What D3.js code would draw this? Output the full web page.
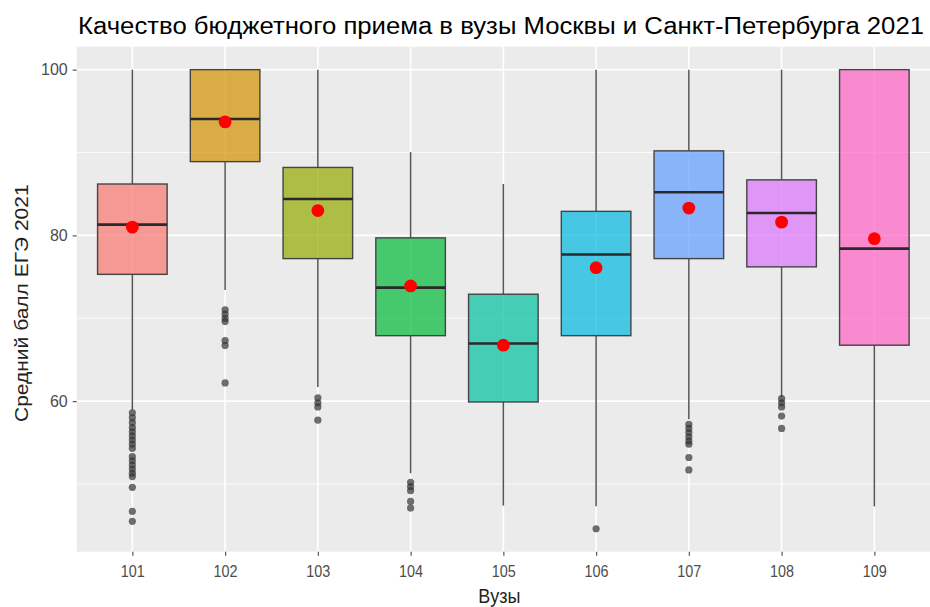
<!DOCTYPE html>
<html>
<head>
<meta charset="utf-8">
<script src="https://cdn.jsdelivr.net/npm/d3@7"></script>
<style>
  body { margin: 0; background: #fff; }
  svg text { font-family: "Liberation Sans", Arial, sans-serif; }
</style>
</head>
<body>
<div id="chart"></div>
<script>
// values
var categories = ["101", "102", "103", "104", "105", "106", "107", "108", "109"];
var whiskerHigh = [100, 100, 100, 90.05, 86.2, 100, 100, 100, 100];
var q3 = [86.2, 100, 88.2, 79.7, 72.9, 82.9, 90.2, 86.7, 100];
var medians = [81.3, 94.05, 84.4, 73.7, 66.95, 77.7, 85.2, 82.7, 78.4];
var q1 = [75.3, 88.9, 77.2, 67.9, 59.9, 67.9, 77.2, 76.2, 66.75];
var whiskerLow = [58.9, 73.4, 61.7, 51.3, 47.4, 47.3, 57.8, 60.5, 47.3];
var means = [81.0, 93.7, 83.0, 73.9, 66.75, 76.1, 83.3, 81.6, 79.6];
var outliers = [
    [58.6, 58.0, 57.4, 56.8, 56.3, 55.8, 55.3, 54.8, 54.3, 53.3, 52.8, 52.3, 51.8, 51.3, 50.9, 49.6, 46.7, 45.5],
    [71.0, 70.5, 70.0, 69.6, 67.3, 66.7, 62.2],
    [60.4, 59.8, 59.3, 57.7],
    [50.2, 49.7, 49.2, 47.9, 47.1],
    [],
    [44.6],
    [57.2, 56.7, 56.2, 55.7, 55.2, 54.8, 53.2, 51.7],
    [60.3, 59.8, 59.3, 58.2, 56.7],
    []
];
var yTicks = [60, 80, 100];
var yMinorTicks = [50, 70, 90];
var fillColours = ["#F8766D", "#D39200", "#93AA00", "#00BA38", "#00C19F", "#00B9E3", "#619CFF", "#DB72FB", "#FF61C3"];

var width = 930, height = 607;
var margin = {top: 46.7, right: 0, bottom: 55.3, left: 76.7};
var innerW = width - margin.left - margin.right,
    innerH = height - margin.top - margin.bottom;

var svg = d3.select("#chart").append("svg")
    .attr("width", width)
    .attr("height", height);

// title
svg.append("text")
    .attr("x", 78)
    .attr("y", 34)
    .attr("font-size", 23)
    .attr("fill", "#000")
    .attr("textLength", 846)
    .attr("lengthAdjust", "spacingAndGlyphs")
    .text("Качество бюджетного приема в вузы Москвы и Санкт-Петербурга 2021");

var g = svg.append("g")
    .attr("transform", "translate(" + margin.left + "," + margin.top + ")");

// ggplot-like 5% expansion of the data range
var allVals = [].concat(whiskerHigh, whiskerLow, d3.merge(outliers));
var lo = d3.min(allVals), hi = d3.max(allVals), pad = (hi - lo) * 0.05;
var yScale = d3.scaleLinear().domain([lo - pad, hi + pad]).range([innerH, 0]);
var xScale = d3.scalePoint().domain(categories).range([0, innerW]).padding(0.6);
var step = xScale.step();
var boxW = step * 0.75;

g.append("rect")
    .attr("width", innerW)
    .attr("height", innerH)
    .attr("fill", "#EBEBEB");

// grid
g.selectAll(".minor").data(yMinorTicks).enter().append("line")
    .attr("x1", 0).attr("x2", innerW)
    .attr("y1", function(d) { return yScale(d); })
    .attr("y2", function(d) { return yScale(d); })
    .attr("stroke", "#fff").attr("stroke-width", 0.8);
g.selectAll(".major").data(yTicks).enter().append("line")
    .attr("x1", 0).attr("x2", innerW)
    .attr("y1", function(d) { return yScale(d); })
    .attr("y2", function(d) { return yScale(d); })
    .attr("stroke", "#fff").attr("stroke-width", 1.6);
g.selectAll(".vgrid").data(categories).enter().append("line")
    .attr("x1", function(d) { return xScale(d); })
    .attr("x2", function(d) { return xScale(d); })
    .attr("y1", 0).attr("y2", innerH)
    .attr("stroke", "#fff").attr("stroke-width", 1.6);

// boxes
categories.forEach(function(c, i) {
    var cx = xScale(c);
    var box = g.append("g");
    box.append("line")
        .attr("x1", cx).attr("x2", cx)
        .attr("y1", yScale(whiskerHigh[i])).attr("y2", yScale(q3[i]))
        .attr("stroke", "#555").attr("stroke-width", 1.5);
    box.append("line")
        .attr("x1", cx).attr("x2", cx)
        .attr("y1", yScale(q1[i])).attr("y2", yScale(whiskerLow[i]))
        .attr("stroke", "#555").attr("stroke-width", 1.5);
    box.append("rect")
        .attr("x", cx - boxW / 2)
        .attr("y", yScale(q3[i]))
        .attr("width", boxW)
        .attr("height", yScale(q1[i]) - yScale(q3[i]))
        .attr("fill", fillColours[i])
        .attr("fill-opacity", 0.7)
        .attr("stroke", "#444")
        .attr("stroke-width", 1.4);
    box.append("line")
        .attr("x1", cx - boxW / 2).attr("x2", cx + boxW / 2)
        .attr("y1", yScale(medians[i])).attr("y2", yScale(medians[i]))
        .attr("stroke", "#2a2a2a").attr("stroke-width", 2.6);
    box.selectAll(".outlier").data(outliers[i]).enter().append("circle")
        .attr("cx", cx)
        .attr("cy", function(d) { return yScale(d); })
        .attr("r", 3.6)
        .attr("fill", "#333")
        .attr("fill-opacity", 0.7);
    box.append("circle")
        .attr("cx", cx)
        .attr("cy", yScale(means[i]))
        .attr("r", 6.4)
        .attr("fill", "#FF0000");
});

// axes
var yAxis = g.append("g").call(d3.axisLeft(yScale).tickValues(yTicks).tickSize(4).tickPadding(5));
var xAxis = g.append("g").attr("transform", "translate(0," + innerH + ")")
    .call(d3.axisBottom(xScale).tickSize(4).tickPadding(9));
[yAxis, xAxis].forEach(function(ax) {
    ax.select(".domain").remove();
    ax.selectAll(".tick line").attr("stroke", "#555").attr("stroke-width", 1.2);
    ax.selectAll(".tick text").attr("fill", "#4D4D4D").attr("font-size", 16)
        .attr("font-family", "'Liberation Sans', Arial, sans-serif");
});
// the reference glyphs are a bit narrow
xAxis.selectAll(".tick text").attr("transform", "scale(0.9,1.05)");

svg.append("text")
    .attr("transform", "translate(" + (margin.left + innerW / 2 - 4) + ",603) scale(0.9,1.05)")
    .attr("text-anchor", "middle")
    .attr("font-size", 20)
    .attr("fill", "#222")
    .text("Вузы");

svg.append("text")
    .attr("transform", "translate(28," + (margin.top + innerH / 2 + 4) + ") rotate(-90) scale(1,0.85)")
    .attr("text-anchor", "middle")
    .attr("font-size", 21)
    .attr("fill", "#222")
    .text("Средний балл ЕГЭ 2021");
</script>
</body>
</html>
